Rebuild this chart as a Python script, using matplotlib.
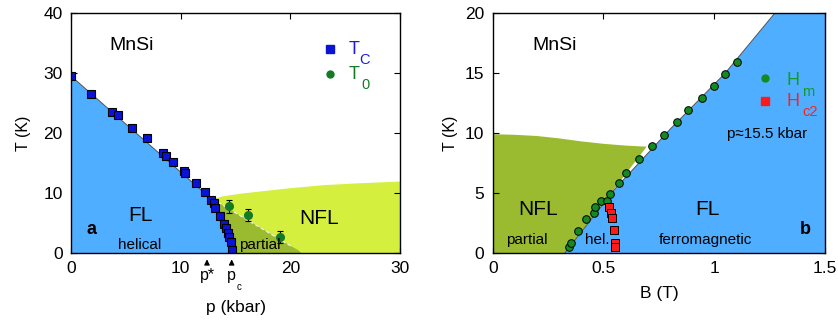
import matplotlib
matplotlib.use("Agg")
import matplotlib.pyplot as plt
import numpy as np

plt.rcParams['font.family'] = ['Liberation Sans', 'DejaVu Sans']

# ---------------- data: panel a ----------------
tc_p = [0.0, 1.83, 3.7, 4.3, 5.6, 6.9, 8.4, 8.7, 9.3, 10.3, 10.4, 11.4, 12.2,
        12.8, 13.0, 13.15, 13.6, 13.95, 14.1, 14.3, 14.4, 14.55, 14.7]
tc_T = [29.5, 26.5, 23.5, 23.0, 20.8, 19.1, 16.6, 16.2, 15.1, 13.6, 13.3, 11.7, 10.1,
        8.9, 8.3, 7.5, 6.1, 4.9, 4.1, 3.3, 2.6, 1.8, 0.5]
t0_p = [14.4, 16.1, 19.1]
t0_T = [7.8, 6.3, 2.7]
t0_err = [1.1, 1.0, 1.0]

# phase boundaries panel a
fl_bound_p = [0.0, 12.8, 13.15, 13.6, 14.1, 14.55, 14.8]
fl_bound_T = [29.5, 9.0, 7.5, 6.1, 4.1, 1.8, 0.0]
dash_p = [12.9, 20.2]
dash_T = [9.0, 1.0]
partial_edge_p = [20.2, 20.7, 21.0]
partial_edge_T = [1.0, 0.5, 0.0]
nfl_top_p = [12.9, 14.0, 16.0, 18.0, 20.0, 23.0, 26.0, 30.0]
nfl_top_T = [9.0, 9.5, 10.0, 10.4, 10.8, 11.3, 11.6, 11.9]

# ---------------- data: panel b ----------------
hm_B = [0.345, 0.355, 0.383, 0.422, 0.457, 0.461, 0.487, 0.514, 0.531, 0.571, 0.600,
        0.660, 0.720, 0.771, 0.834, 0.880, 0.945, 0.998, 1.048, 1.102]
hm_T = [0.53, 0.8, 1.86, 2.86, 3.36, 3.8, 4.36, 4.36, 4.9, 5.86, 6.67,
        7.86, 8.9, 9.86, 10.9, 11.9, 12.9, 13.9, 14.9, 15.9]
hc2_B = [0.526, 0.532, 0.537, 0.549, 0.553, 0.553]
hc2_T = [3.83, 3.36, 2.9, 1.9, 0.86, 0.53]

bline_B = [0.326, 0.55, 0.80, 1.05, 1.274]
bline_T = [0.0, 5.3, 10.3, 15.0, 20.0]
nflb_top_B = [0.0, 0.1, 0.2, 0.3, 0.4, 0.5, 0.6, 0.695]
nflb_top_T = [9.9, 9.85, 9.75, 9.55, 9.3, 9.1, 8.95, 8.86]

BLUE = '#4faeff'
OLIVE = '#9aba2f'
YELLOW = '#d5ef3e'

fig = plt.figure(figsize=(8.38, 3.2), dpi=100)
ax1 = fig.add_axes([71/838, 67/320, (400-71)/838, 240/320])
ax2 = fig.add_axes([492.7/838, 67/320, (825-492.7)/838, 240/320])

# ---------- panel a ----------
ax = ax1
ax.set_xlim(0, 30)
ax.set_ylim(0, 40)
yp = list(nfl_top_p) + [30, 14.8]
yT = list(nfl_top_T) + [0, 0]
ax.fill(yp, yT, color=YELLOW, lw=0, zorder=1)
op = [12.9, 13.15, 13.6, 14.1, 14.55, 14.8] + partial_edge_p[::-1] + [dash_p[1], dash_p[0]]
oT = [9.0, 7.5, 6.1, 4.1, 1.8, 0.0] + partial_edge_T[::-1] + [dash_T[1], dash_T[0]]
ax.fill(op, oT, color=OLIVE, lw=0, zorder=2)
bp = [0] + fl_bound_p
bT = [0] + fl_bound_T
ax.fill(bp, bT, color=BLUE, lw=0, zorder=3)
ax.plot(fl_bound_p[:2], fl_bound_T[:2], color='#555555', lw=0.7, zorder=4)
ax.plot(dash_p, dash_T, color='#eeeeee', lw=0.9, ls=(0, (3, 2)), zorder=4)
ax.plot(tc_p, tc_T, 's', ms=5.5, mfc='#0a14d6', mec='black', mew=0.8, zorder=6)
ax.errorbar(t0_p, t0_T, yerr=t0_err, fmt='o', ms=5.5, mfc='#137a26', mec='#137a26',
            ecolor='black', elinewidth=0.8, capsize=2.5, capthick=0.8, zorder=6)

ax.text(3.5, 34.6, 'MnSi', fontsize=14, va='center', ha='left', zorder=7)
ax.text(6.3, 6.3, 'FL', fontsize=15, va='center', ha='center', zorder=7)
ax.text(1.9, 4.0, 'a', fontsize=13, fontweight='bold', va='center', ha='center', zorder=7)
ax.text(6.3, 1.3, 'helical', fontsize=11, va='center', ha='center', zorder=7)
ax.text(17.2, 1.3, 'partial', fontsize=11, va='center', ha='center', zorder=7)
ax.text(22.6, 5.8, 'NFL', fontsize=15, va='center', ha='center', zorder=7)

# legend panel a
ax.plot([23.6], [34.0], 's', ms=5.5, color='#0a14d6', zorder=7)
ax.plot([23.6], [29.8], 'o', ms=5, color='#137a26', zorder=7)
ax.text(25.3, 33.9, 'T', fontsize=13, color='#1a1ae0', va='center', ha='left', zorder=7)
ax.text(26.3, 32.2, 'C', fontsize=10.5, color='#1a1ae0', va='center', ha='left', zorder=7)
ax.text(25.3, 29.7, 'T', fontsize=13, color='#137a26', va='center', ha='left', zorder=7)
ax.text(26.5, 28.0, '0', fontsize=10.5, color='#137a26', va='center', ha='left', zorder=7)

# p* and pc arrows
for pv in [12.4, 14.65]:
    ax.annotate('', xy=(pv, -0.6), xytext=(pv, -2.4), xycoords='data',
                arrowprops=dict(arrowstyle='-|>', color='black', lw=0.8,
                                mutation_scale=8), annotation_clip=False)
ax.text(12.4, -3.8, 'p*', fontsize=11.5, ha='center', va='center', clip_on=False)
ax.text(14.6, -3.8, 'p', fontsize=11.5, ha='center', va='center', clip_on=False)
ax.text(15.35, -5.7, 'c', fontsize=7, ha='center', va='center', clip_on=False)

ax.set_xticks([0, 10, 20, 30])
ax.set_yticks([0, 10, 20, 30, 40])
ax.set_xlabel('p (kbar)', fontsize=12.5, labelpad=17)
ax.set_ylabel('T (K)', fontsize=11.5, labelpad=9)

# ---------- panel b ----------
ax = ax2
ax.set_xlim(0, 1.5)
ax.set_ylim(0, 20)
ob = list(nflb_top_B) + [0.326, 0.0]
oT = list(nflb_top_T) + [0.0, 0.0]
ax.fill(ob, oT, color=OLIVE, lw=0, zorder=1)
bb = list(bline_B) + [1.5, 1.5]
bT2 = list(bline_T) + [20, 0]
ax.fill(bb, bT2, color=BLUE, lw=0, zorder=2)
ax.plot(bline_B, bline_T, color='#555555', lw=0.7, zorder=3)
ax.plot(hm_B, hm_T, 'o', ms=5.5, mfc='#138a22', mec='black', mew=0.7, zorder=5)
ax.plot(hc2_B, hc2_T, 's', ms=5.5, mfc='#ff1a1a', mec='black', mew=0.7, zorder=5)

ax.text(0.18, 17.3, 'MnSi', fontsize=14, va='center', ha='left', zorder=7)
ax.text(0.206, 3.6, 'NFL', fontsize=15, va='center', ha='center', zorder=7)
ax.text(0.155, 1.1, 'partial', fontsize=11, va='center', ha='center', zorder=7)
ax.text(0.47, 1.1, 'hel.', fontsize=11, va='center', ha='center', zorder=7)
ax.text(0.97, 3.6, 'FL', fontsize=15, va='center', ha='center', zorder=7)
ax.text(0.96, 1.1, 'ferromagnetic', fontsize=11, va='center', ha='center', zorder=7)
ax.text(1.41, 2.0, 'b', fontsize=13, fontweight='bold', va='center', ha='center', zorder=7)
ax.text(1.24, 9.9, 'p\u224815.5 kbar', fontsize=11, va='center', ha='center', zorder=7)

ax.plot([1.228], [14.6], 'o', ms=5, color='#138a22', zorder=7)
ax.plot([1.228], [12.7], 's', ms=5.5, color='#ff1a1a', zorder=7)
ax.text(1.325, 14.4, 'H', fontsize=13, color='#139a2a', va='center', ha='left', zorder=7)
ax.text(1.395, 13.4, 'm', fontsize=10.5, color='#139a2a', va='center', ha='left', zorder=7)
ax.text(1.325, 12.6, 'H', fontsize=13, color='#ff2020', va='center', ha='left', zorder=7)
ax.text(1.40, 11.75, 'c2', fontsize=10.5, color='#ff2020', va='center', ha='left', zorder=7)

ax.set_xticks([0, 0.5, 1, 1.5])
ax.set_xticklabels(['0', '0.5', '1', '1.5'])
ax.set_yticks([0, 5, 10, 15, 20])
ax.set_xlabel('B (T)', fontsize=12.5, labelpad=7)
ax.set_ylabel('T (K)', fontsize=11.5, labelpad=5)

for a in (ax1, ax2):
    a.tick_params(direction='in', top=True, right=True, labelsize=12.5, length=4, width=0.8, pad=6)
    for s in a.spines.values():
        s.set_linewidth(1.0)
        s.set_zorder(10)

fig.savefig('out.png', dpi=100)
